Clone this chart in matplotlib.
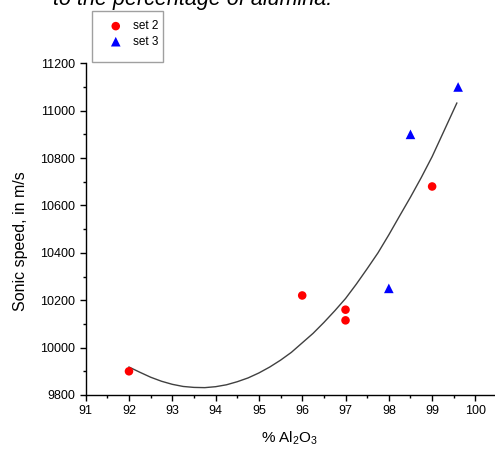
import numpy as np
import matplotlib.pyplot as plt
from matplotlib.patches import Rectangle

plt.rcParams['font.family'] = ['Liberation Sans', 'DejaVu Sans']
plt.rcParams['mathtext.default'] = 'regular'

# set 2 (circles)
set2_x = [92, 96, 97, 97, 99]
set2_y = [9900, 10220, 10160, 10115, 10680]

# set 3 (triangles)
set3_x = [98, 98.5, 99.6]
set3_y = [10250, 10900, 11100]

# trend curve
fit_x = [92, 92.25, 92.5, 92.75, 93, 93.25, 93.5, 93.75, 94, 94.25, 94.5, 94.75,
         95, 95.25, 95.5, 95.75, 96, 96.25, 96.5, 96.75, 97, 97.25, 97.5, 97.75,
         98, 98.25, 98.5, 98.75, 99, 99.25, 99.57]
fit_y = [9918, 9896, 9875, 9858, 9845, 9836, 9832, 9831, 9835, 9843, 9856, 9872,
         9893, 9918, 9947, 9980, 10020, 10060, 10106, 10155, 10207, 10268, 10333, 10400,
         10476, 10556, 10635, 10718, 10806, 10905, 11032]

x_ticks = [91, 92, 93, 94, 95, 96, 97, 98, 99, 100]
y_ticks = [9800, 10000, 10200, 10400, 10600, 10800, 11000, 11200]

fig = plt.figure(figsize=(4.95, 4.51), dpi=100)
ax = fig.add_axes([0.1731, 0.1242, 0.825, 0.7355])

ax.plot(fit_x, fit_y, color='#404040', lw=1.0, zorder=2)
ax.scatter(set2_x, set2_y, s=38, marker='o', color='red', edgecolors='none', label='set 2', zorder=3)
ax.scatter(set3_x, set3_y, s=48, marker='^', color='blue', edgecolors='none', label='set 3', zorder=3)

ax.set_xlim(91, 100.43)
ax.set_ylim(9800, 11200)
ax.set_xticks(x_ticks)
ax.set_yticks(y_ticks)
ax.set_xticks(np.arange(91.5, 100.5, 1), minor=True)
ax.set_yticks(np.arange(9900, 11200, 200), minor=True)
ax.tick_params(which='major', direction='out', length=4, width=1, labelsize=9, colors='black')
ax.tick_params(which='minor', direction='out', length=2.5, width=1)
for s in ['top', 'right']:
    ax.spines[s].set_visible(False)
for s in ['left', 'bottom']:
    ax.spines[s].set_linewidth(1)

ax.set_xlabel(r'% Al$_2$O$_3$', fontsize=11)
ax.xaxis.set_label_coords(0.5, -0.105)
ax.set_ylabel('Sonic speed, in m/s', fontsize=11.5)
ax.yaxis.set_label_coords(-0.141, 0.464)

fig.text(53 / 495, 1 - 5 / 451, 'to the percentage of alumina.', fontsize=15.5,
         style='italic', va='baseline', ha='left')

fig.patches.append(Rectangle((0.186, 0.8625), 0.1434, 0.113, transform=fig.transFigure,
                             fill=False, edgecolor='#a0a0a0', lw=1))
fig.legend(loc='upper left', bbox_to_anchor=(0.21, 0.9656), frameon=False, fontsize=8.5,
           handlelength=1.2, handletextpad=0.9, labelspacing=0.3, borderaxespad=0)

fig.savefig('out.png', dpi=100)
